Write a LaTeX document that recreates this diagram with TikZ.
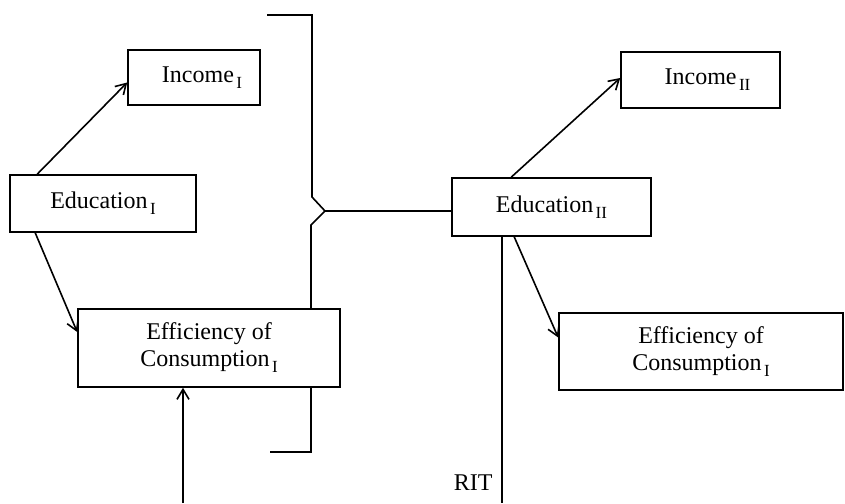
\documentclass[tikz,border=0pt]{standalone}
\usepackage{fontspec}
\setmainfont{Liberation Serif}
\usetikzlibrary{arrows.meta,calc}
\newcommand{\mysub}[1]{\kern1.2pt\raisebox{-3pt}{\fontsize{8.5}{8.5}\selectfont #1}}
\begin{document}
\begin{tikzpicture}[x=0.5pt,y=-0.5pt,
  box/.style={draw,line width=0.8pt,rectangle,inner sep=0pt,align=center,font=\fontsize{12}{13.5}\selectfont},
  conn/.style={line width=0.8pt},
  arr/.style={line width=0.8pt,-{Straight Barb[length=5pt,width=6pt]}},
  lbl/.style={font=\fontsize{12}{13.5}\selectfont,inner sep=1pt}]
\useasboundingbox (0,0) rectangle (845,503);
% nodes
\node[box,minimum width=66pt,minimum height=27.5pt] (inc1) at (194,77.5) {\hspace*{8pt}Income\mysub{I}};
\node[box,minimum width=93pt,minimum height=28.5pt] (edu1) at (103,203.5) {Education\mysub{I}};
\node[box,minimum width=131pt,minimum height=39pt] (eff1) at (209,348) {Efficiency of\\Consumption\mysub{I}};
\node[box,minimum width=99.5pt,minimum height=29pt] (edu2) at (551.5,207) {Education\mysub{II}};
\node[box,minimum width=79.5pt,minimum height=28pt] (inc2) at (700.5,80) {\hspace*{7pt}Income\mysub{II}};
\node[box,minimum width=142pt,minimum height=38.5pt] (eff2) at (701,351.5) {Efficiency of\\Consumption\mysub{I}};
\node[lbl,anchor=east] (rit) at (495,483) {RIT};
% coordinates
\coordinate (btop) at (267,15);
\coordinate (bbot) at (270,452);
\coordinate (j) at (325,211);
\coordinate (bot) at (183,503);
\coordinate (ritend) at (501.6,503);
% connectors
\draw[arr] ($(edu1.north west)+(28,0)$) -- ($(inc1.west)+(0,5)$);
\draw[arr] ($(edu1.south west)+(26,0)$) -- ($(eff1.west)+(0,-16)$);
\draw[arr] (bot) -- (bot |- eff1.south);
\draw[conn] (btop) -- (312,15) -- (312,197) -- (j) -- (j -| edu2.west);
\draw[conn] (j) -- (311,225) -- (311,0 |- eff1.north);
\draw[conn] (311,0 |- eff1.south) -- (311,452) -- (bbot);
\draw[arr] ($(edu2.north west)+(60,0)$) -- ($(inc2.west)+(0,-2)$);
\draw[line width=0.9pt] (ritend |- edu2.south) -- (ritend);
\draw[arr] ($(edu2.south west)+(63,0)$) -- ($(eff2.west)+(0,-14)$);
\end{tikzpicture}
\end{document}
